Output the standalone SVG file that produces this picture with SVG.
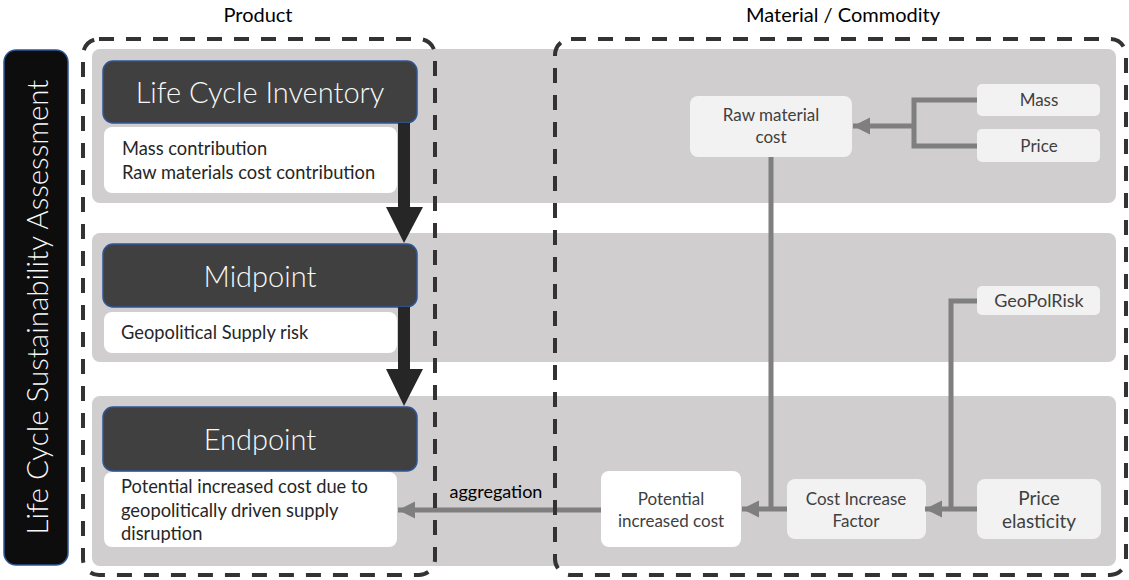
<svg xmlns="http://www.w3.org/2000/svg" width="1129" height="580" viewBox="0 0 1129 580">
<defs>
<style>
.band{fill:#d0cece}
.dash{fill:none;stroke:#333333;stroke-width:4;stroke-dasharray:15 12}
.dark{fill:#404040;stroke:#2f5597;stroke-width:1.5}
.white{fill:#ffffff}
.light{fill:#f2f2f2}
.title{font-family:Lato,"Open Sans",sans-serif;font-weight:300;font-size:29px;fill:#f8f8f8;text-anchor:middle}
.desc{font-family:Lato,"Open Sans",sans-serif;font-size:18.3px;fill:#262626}
.node{font-family:Lato,"Open Sans",sans-serif;font-size:17px;fill:#404040;text-anchor:middle}
.head{font-family:Lato,"Open Sans",sans-serif;font-size:20px;fill:#000000;text-anchor:middle}
.lbl{font-family:Lato,"Open Sans",sans-serif;font-size:18px;fill:#000000;text-anchor:middle}
.gl{fill:none;stroke:#7f7f7f;stroke-width:5}
.ga{fill:none;stroke:#7f7f7f;stroke-width:5;marker-end:url(#ah)}
</style>
<marker id="ah" viewBox="0 0 10 10" refX="10" refY="5" markerUnits="userSpaceOnUse" markerWidth="17" markerHeight="18" orient="auto">
<path d="M0,0 L10,5 L0,10 Z" fill="#7f7f7f"/>
</marker>
</defs>
<rect width="1129" height="580" fill="#ffffff"/>

<g id="bands">
<rect class="band" x="92" y="49" width="1024" height="154" rx="8"/>
<rect class="band" x="92" y="233" width="1024" height="129" rx="8"/>
<rect class="band" x="92" y="396" width="1024" height="170" rx="8"/>
</g>

<g id="headers">
<text class="head" x="258" y="22">Product</text>
<text class="head" x="843" y="22">Material / Commodity</text>
</g>

<g id="lcsa">
<rect x="4" y="50" width="64" height="515" rx="12" fill="#0d0d0d" stroke="#2f5597" stroke-width="1.5"/>
<text class="title" transform="translate(48,307) rotate(-90)" style="font-size:29.5px">Life Cycle Sustainability Assessment</text>
</g>

<g id="lci">
<rect class="dark" x="103" y="61" width="314" height="62" rx="10"/>
<text class="title" x="260" y="103">Life Cycle Inventory</text>
</g>
<g id="lci-desc">
<rect class="white" x="104" y="127" width="293" height="66" rx="8"/>
<text class="desc" x="122" y="155">Mass contribution</text>
<text class="desc" x="122" y="179">Raw materials cost contribution</text>
</g>

<g id="midpoint">
<rect class="dark" x="103" y="244" width="314" height="63" rx="10"/>
<text class="title" x="260" y="287">Midpoint</text>
</g>
<g id="midpoint-desc">
<rect class="white" x="104" y="312" width="293" height="41" rx="8"/>
<text class="desc" x="121" y="339">Geopolitical Supply risk</text>
</g>

<g id="endpoint">
<rect class="dark" x="103" y="407" width="314" height="64" rx="10"/>
<text class="title" x="260" y="450">Endpoint</text>
</g>
<g id="endpoint-desc">
<rect class="white" x="104" y="472" width="293" height="75" rx="8"/>
<text class="desc" x="121" y="493">Potential increased cost due to</text>
<text class="desc" x="121" y="517">geopolitically driven supply</text>
<text class="desc" x="121" y="540">disruption</text>
</g>

<g id="raw-material-cost">
<rect class="light" x="690" y="96" width="162" height="61" rx="8"/>
<text class="node" x="771" y="121">Raw material</text>
<text class="node" x="771" y="143">cost</text>
</g>
<g id="mass">
<rect class="light" x="977" y="84" width="123" height="32" rx="5"/>
<text class="node" x="1039" y="106">Mass</text>
</g>
<g id="price">
<rect class="light" x="977" y="129" width="123" height="33" rx="5"/>
<text class="node" x="1039" y="152">Price</text>
</g>
<g id="geopolrisk">
<rect class="light" x="977" y="286" width="123" height="29" rx="5"/>
<text class="node" x="1039" y="307" style="font-size:18px">GeoPolRisk</text>
</g>
<g id="potential-increased-cost">
<rect class="white" x="601" y="471" width="140" height="76" rx="8"/>
<text class="node" x="671" y="505">Potential</text>
<text class="node" x="671" y="527">increased cost</text>
</g>
<g id="cost-increase-factor">
<rect class="light" x="787" y="479" width="139" height="60" rx="8"/>
<text class="node" x="856" y="505">Cost Increase</text>
<text class="node" x="856" y="527">Factor</text>
</g>
<g id="price-elasticity">
<rect class="light" x="977" y="479" width="124" height="60" rx="8"/>
<text class="node" x="1039" y="505" style="font-size:19px">Price</text>
<text class="node" x="1039" y="528" style="font-size:19px">elasticity</text>
</g>

<g id="connectors">
<path d="M398,123 H410 V207 H423 L404,243 L386,207 H398 Z" fill="#262626"/>
<path d="M398,307 H410 V369 H423 L404,406 L386,369 H398 Z" fill="#262626"/>
<path class="gl" d="M977,100 H914 V146 H977"/>
<path class="ga" d="M914,126 H853"/>
<path class="gl" d="M771,157 V509"/>
<path class="gl" d="M977,301 H951 V509"/>
<path class="ga" d="M977,509 H925"/>
<path class="ga" d="M787,509 H742"/>
<path class="ga" d="M601,510 H398"/>
<text class="lbl" x="496" y="498">aggregation</text>
</g>

<g id="groups">
<rect class="dash" x="83" y="39" width="352" height="536" rx="16"/>
<rect class="dash" x="555" y="39" width="571" height="536" rx="16"/>
</g>
</svg>
